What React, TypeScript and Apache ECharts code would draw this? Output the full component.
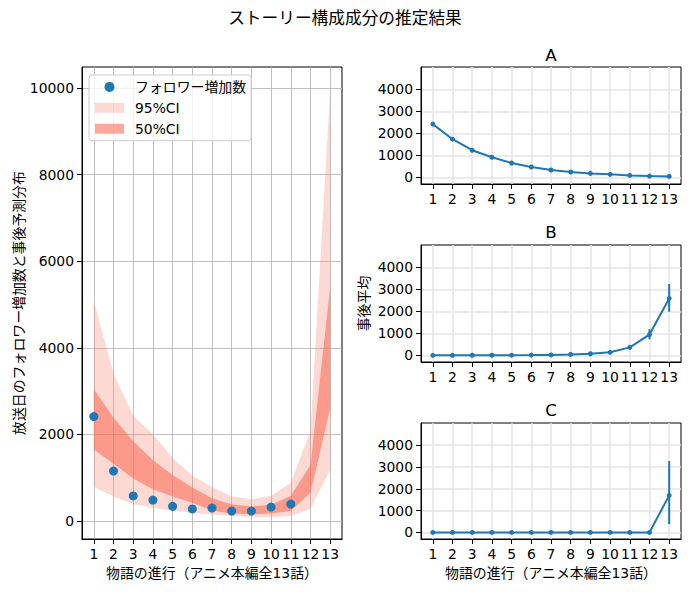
import React, { useEffect, useRef } from "react";
import * as echarts from "echarts";

// ---------- data ----------
const episodes = [1, 2, 3, 4, 5, 6, 7, 8, 9, 10, 11, 12, 13];
const observed: (number | null)[] = [2410, 1150, 575, 480, 335, 275, 295, 225, 225, 318, 388, null, null];
const ci95Low = [780, 560, 390, 300, 232, 186, 147, 110, 90, 80, 110, 280, 1180];
const ci95High = [5080, 3400, 2430, 2000, 1450, 1050, 780, 560, 500, 580, 880, 2080, 9990];
const ci50Low = [1650, 1320, 980, 730, 560, 420, 240, 170, 150, 170, 230, 650, 2600];
const ci50High = [3050, 2380, 1840, 1400, 1060, 770, 520, 380, 330, 370, 580, 1290, 5400];

const compAMean = [2418, 1734, 1232, 913, 654, 471, 335, 243, 182, 137, 91, 61, 46];
const compALow = [2330, 1675, 1195, 885, 632, 455, 322, 232, 173, 129, 85, 56, 41];
const compAHigh = [2510, 1795, 1270, 940, 676, 488, 348, 254, 191, 145, 97, 66, 51];

const compBMean = [2, 3, 5, 7, 10, 15, 22, 45, 75, 140, 365, 945, 2585];
const compBLow = [1, 2, 4, 5, 8, 12, 18, 38, 64, 122, 330, 730, 1980];
const compBHigh = [3, 4, 7, 9, 13, 19, 27, 52, 88, 160, 400, 1190, 3240];

const compCMean = [0, 0, 0, 0, 0, 0, 0, 0, 0, 0, 0, 0, 1697];
const compCLow = [0, 0, 0, 0, 0, 0, 0, 0, 0, 0, 0, 0, 380];
const compCHigh = [0, 0, 0, 0, 0, 0, 0, 0, 0, 0, 0, 0, 3270];

const leftYTicks = [0, 2000, 4000, 6000, 8000, 10000];
const rightYTicks = [0, 1000, 2000, 3000, 4000];
const xTicks = episodes;

const suptitle = "ストーリー構成成分の推定結果";
const panelTitles = ["A", "B", "C"];
const xName = "物語の進行（アニメ本編全13話）";
const leftYName = "放送日のフォロワー増加数と事後予測分布";
const rightYName = "事後平均";
const obsName = "フォロワー増加数";
const ci95Name = "95%CI";
const ci50Name = "50%CI";

// ---------- styles ----------
const FONT = "DejaVu Sans, 'Noto Sans CJK JP', sans-serif";
const FS = 13.9;
const BLUE = "#1f77b4";
const C95 = "rgba(250,128,114,0.3)";
const C50 = "rgba(250,110,90,0.6)";

const App: React.FC = () => {
  const ref = useRef<HTMLDivElement>(null);

  useEffect(() => {
    if (!ref.current) return;
    const chart = echarts.init(ref.current, undefined, { renderer: "svg" });

    const grids = [
      { left: 82, top: 67, width: 260, height: 472 },
      { left: 421, top: 67, width: 260, height: 117 },
      { left: 421, top: 245, width: 260, height: 117 },
      { left: 421, top: 423, width: 260, height: 116 },
    ].map((g) => ({ ...g, show: true, borderColor: "#000", borderWidth: 1, backgroundColor: "transparent" }));

    const axisText = {
      color: "#000",
      fontFamily: FONT,
      fontSize: FS,
      formatter: (v: number) => String(v),
    };

    const makeX = (i: number, withName: boolean) => ({
      type: "value",
      gridIndex: i,
      min: 0.4,
      max: 13.6,
      axisLine: { show: true, onZero: false, lineStyle: { color: "#000", width: 1 } },
      axisTick: { show: true, length: 5, lineStyle: { color: "#000" }, customValues: xTicks },
      axisLabel: { ...axisText, margin: 8, customValues: xTicks },
      splitLine: {
        show: true,
        lineStyle: i === 0 ? { color: "#b0b0b0", width: 0.8 } : { color: "#e4e4e4", width: 1.5 },
      },
      name: withName ? xName : "",
      nameLocation: "middle",
      nameGap: 27,
      nameTextStyle: { color: "#000", fontFamily: FONT, fontSize: FS },
    });

    const makeY = (i: number, name: string, nameGap: number) => {
      const left = i === 0;
      return {
        type: "value",
        gridIndex: i,
        min: left ? -420 : -300,
        max: left ? 10490 : 5010,
        axisLine: { show: true, onZero: false, lineStyle: { color: "#000", width: 1 } },
        axisTick: { show: true, length: 5, lineStyle: { color: "#000" }, customValues: left ? leftYTicks : rightYTicks },
        axisLabel: { ...axisText, margin: 8, customValues: left ? leftYTicks : rightYTicks },
        splitLine: {
          show: true,
          lineStyle: left ? { color: "#b0b0b0", width: 0.8 } : { color: "#e4e4e4", width: 1.5 },
        },
        name,
        nameLocation: "middle",
        nameGap,
        nameTextStyle: { color: "#000", fontFamily: FONT, fontSize: FS },
      };
    };

    const pairs = (ys: (number | null)[]) => episodes.map((x, k) => [x, ys[k]]);

    const band = (name: string, lo: number[], hi: number[], color: string, z: number) => ({
      name,
      type: "custom",
      xAxisIndex: 0,
      yAxisIndex: 0,
      silent: true,
      z,
      itemStyle: { color },
      data: episodes.map((x, k) => [x, lo[k], hi[k]]),
      encode: { x: 0, y: [1, 2] },
      renderItem: (params: any, api: any) => {
        if (params.dataIndex !== 0) return null;
        const top = episodes.map((x, k) => api.coord([x, hi[k]]));
        const bot = episodes.map((x, k) => api.coord([x, lo[k]])).reverse();
        return {
          type: "polygon",
          shape: { points: top.concat(bot) },
          style: { fill: color, stroke: "none" },
        };
      },
    });

    const errorBar = (i: number, lo: number[], hi: number[]) => ({
      type: "custom",
      xAxisIndex: i,
      yAxisIndex: i,
      silent: true,
      z: 3,
      data: episodes.map((x, k) => [x, lo[k], hi[k]]),
      encode: { x: 0, y: [1, 2] },
      renderItem: (_p: any, api: any) => {
        const a = api.coord([api.value(0), api.value(1)]);
        const b = api.coord([api.value(0), api.value(2)]);
        return {
          type: "line",
          shape: { x1: a[0], y1: a[1], x2: b[0], y2: b[1] },
          style: { stroke: BLUE, lineWidth: 2 },
        };
      },
    });

    const meanLine = (i: number, ys: number[]) => ({
      type: "line",
      xAxisIndex: i,
      yAxisIndex: i,
      data: pairs(ys),
      symbol: "circle",
      symbolSize: 5,
      showSymbol: true,
      itemStyle: { color: BLUE },
      lineStyle: { color: BLUE, width: 2 },
      z: 4,
    });

    const option: any = {
      animation: false,
      textStyle: { fontFamily: FONT },
      grid: grids,
      xAxis: [makeX(0, true), makeX(1, false), makeX(2, false), makeX(3, true)],
      yAxis: [makeY(0, leftYName, 56), makeY(1, "", 50), makeY(2, rightYName, 50), makeY(3, "", 50)],
      legend: {
        left: 89,
        top: 75,
        orient: "vertical",
        itemWidth: 29,
        itemHeight: 10,
        itemGap: 7,
        padding: [5, 5, 5, 6],
        backgroundColor: "rgba(255,255,255,0.8)",
        borderColor: "#cccccc",
        borderWidth: 1,
        borderRadius: 3,
        textStyle: { color: "#000", fontFamily: FONT, fontSize: FS, padding: [0, 0, 0, 6] },
        data: [
          { name: obsName, icon: "circle" },
          { name: ci95Name, icon: "rect", itemStyle: { color: C95 } },
          { name: ci50Name, icon: "rect", itemStyle: { color: C50 } },
        ],
      },
      graphic: [
        {
          type: "text",
          x: 345,
          y: 18,
          style: { text: suptitle, textAlign: "center", textVerticalAlign: "middle", font: `16.7px ${FONT}`, fill: "#000" },
        },
        ...panelTitles.map((t, k) => ({
          type: "text",
          x: 551,
          y: [55, 232, 410][k],
          style: { text: t, textAlign: "center", textVerticalAlign: "middle", font: `16.7px ${FONT}`, fill: "#000" },
        })),
      ],
      series: [
        band(ci95Name, ci95Low, ci95High, C95, 1),
        band(ci50Name, ci50Low, ci50High, C50, 2),
        {
          name: obsName,
          type: "scatter",
          xAxisIndex: 0,
          yAxisIndex: 0,
          data: pairs(observed).filter((p) => p[1] !== null),
          symbolSize: 9,
          itemStyle: { color: BLUE, opacity: 1 },
          z: 5,
        },
        errorBar(1, compALow, compAHigh),
        meanLine(1, compAMean),
        errorBar(2, compBLow, compBHigh),
        meanLine(2, compBMean),
        errorBar(3, compCLow, compCHigh),
        meanLine(3, compCMean),
      ],
    };

    chart.setOption(option);
    return () => chart.dispose();
  }, []);

  return (
    <div
      ref={ref}
      style={{ position: "absolute", left: 0, top: 0, width: 689, height: 592, background: "#fff" }}
    />
  );
};

export default App;
